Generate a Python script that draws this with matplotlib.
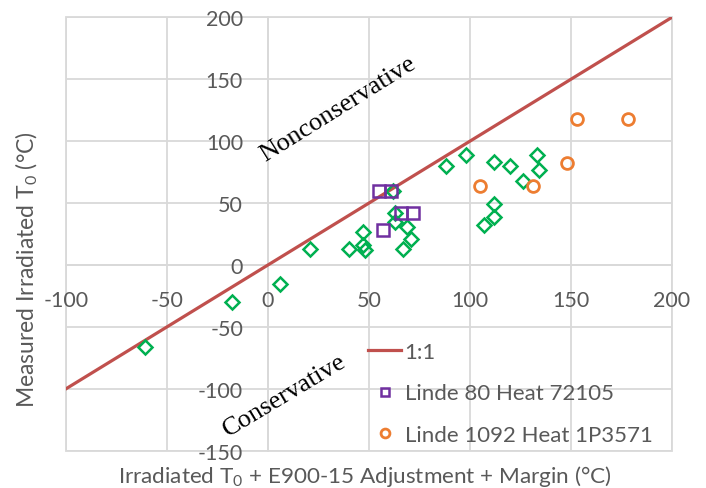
import matplotlib
matplotlib.use("Agg")
import matplotlib.pyplot as plt
from matplotlib.patches import Rectangle

# ---- data ----
one_to_one_x = [-100, 200]
one_to_one_y = [-100, 200]

other_x = [-61, -18, 6, 21, 40, 47, 47, 48, 62, 63, 63, 69, 71, 67,
           88, 98, 112, 120, 133, 134, 126, 112, 112, 107]
other_y = [-66, -30, -15, 13, 13, 27, 16, 12, 60, 42, 35, 31, 21, 13,
           80, 89, 83, 80, 89, 77, 68, 49, 39, 32]

linde80_x = [55, 61, 66, 72, 57]
linde80_y = [60, 60, 42, 42, 28]

linde1092_x = [105, 131, 148, 153, 178]
linde1092_y = [64, 64, 82, 118, 118]

xticks = [-100, -50, 0, 50, 100, 150, 200]
yticks = [-150, -100, -50, 0, 50, 100, 150, 200]

# ---- style ----
plt.rcParams['font.family'] = ['Lato', 'DejaVu Sans']
plt.rcParams['mathtext.fontset'] = 'custom'
plt.rcParams['mathtext.rm'] = 'Lato'
plt.rcParams['mathtext.it'] = 'Lato:italic'
plt.rcParams['mathtext.bf'] = 'Lato:bold'

TXT = '#595959'
GRID = '#D9D9D9'
RED = '#C0504D'
GREEN = '#00B050'
PURPLE = '#7030A0'
ORANGE = '#ED7D31'

fig = plt.figure(figsize=(7.06, 4.89), dpi=100)
ax = fig.add_axes([66/706, 1-451.7/489, 606/706, 433.4/489])

ax.set_xlim(-100, 200)
ax.set_ylim(-150, 200)
ax.set_xticks(xticks)
ax.set_yticks(yticks)
ax.set_xticklabels([str(v) for v in xticks])
ax.set_yticklabels([str(v) for v in yticks])

ax.grid(True, color=GRID, lw=1.3, zorder=0)
ax.set_axisbelow(True)
for s in ['top', 'right']:
    ax.spines[s].set_visible(False)
ax.spines['left'].set_position(('data', 0))
ax.spines['bottom'].set_position(('data', 0))
for s in ['left', 'bottom']:
    ax.spines[s].set_color(GRID)
    ax.spines[s].set_linewidth(1.3)
    ax.spines[s].set_zorder(0.5)
ax.add_patch(Rectangle((0, 0), 1, 1, transform=ax.transAxes, fill=False,
                       ec=GRID, lw=1.3, zorder=0.5, clip_on=False))

ax.tick_params(axis='both', length=0, labelsize=15.5, labelcolor=TXT)
ax.tick_params(axis='y', pad=18)
ax.tick_params(axis='x', pad=18)

ax.plot(one_to_one_x, one_to_one_y, color=RED, lw=2.3, label='1:1', zorder=2)
ax.plot(other_x, other_y, ls='none', marker='D', ms=7, mfc='none', mec=GREEN,
        mew=1.8, zorder=3, label='_nolegend_')
ax.plot(linde80_x, linde80_y, ls='none', marker='s', ms=8, mfc='none',
        mec=PURPLE, mew=1.8, zorder=4, label='Linde 80 Heat 72105')
ax.plot(linde1092_x, linde1092_y, ls='none', marker='o', ms=8.5, mfc='none',
        mec=ORANGE, mew=2.0, zorder=4, label='Linde 1092 Heat 1P3571')

ax.text(34.7, 126.4, 'Nonconservative', rotation=32, ha='center', va='center',
        family='Liberation Serif', fontsize=19, color='black', rotation_mode='anchor')
ax.text(8, -105, 'Conservative', rotation=31, ha='center', va='center',
        family='Liberation Serif', fontsize=19, color='black', rotation_mode='anchor')

ax.set_xlabel(r'Irradiated T$_\mathrm{0}$ + E900-15 Adjustment + Margin (°C)',
              fontsize=16.2, color=TXT)
ax.set_ylabel(r'Measured Irradiated T$_\mathrm{0}$ (°C)', fontsize=16.5, color=TXT)
ax.xaxis.set_label_coords(0.493, -0.058)
ax.yaxis.set_label_coords(-0.064, 0.419)
ax.xaxis.label.set_va('center')
ax.yaxis.label.set_va('center')

leg = ax.legend(loc='upper left', bbox_to_anchor=(368/706, 1-343/489),
                bbox_transform=fig.transFigure, frameon=False, fontsize=16,
                labelcolor=TXT, handlelength=1.5, handletextpad=0.15,
                labelspacing=0.96, borderpad=0, borderaxespad=0, markerscale=0.75)

fig.savefig('out.png', dpi=100)
